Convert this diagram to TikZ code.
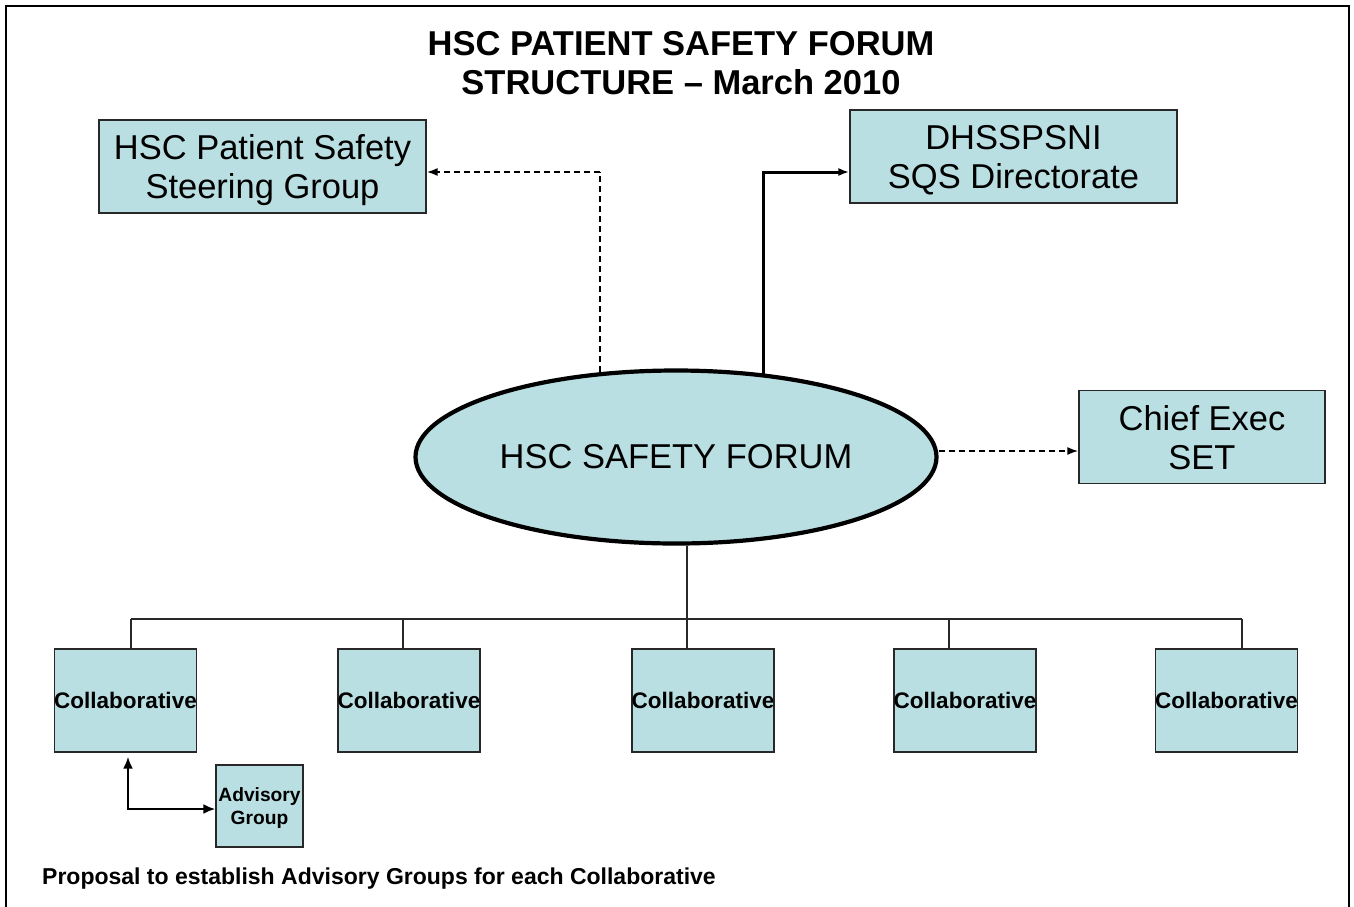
\documentclass[tikz,border=0pt]{standalone}
\usepackage{fontspec}
\setmainfont{Liberation Sans}
\usetikzlibrary{shapes.geometric,arrows.meta,calc}
\definecolor{boxfill}{RGB}{185,223,226}
\definecolor{edge}{RGB}{40,40,40}
\begin{document}
\begin{tikzpicture}[x=1pt,y=-1pt,
  box/.style={draw=edge, line width=1.2pt, fill=boxfill, inner sep=0pt, align=center},
  bigtext/.style={font=\fontsize{34.5}{39}\selectfont},
  wide/.style={box, bigtext, minimum width=327pt, minimum height=93pt, text depth=0pt},
  collab/.style={box, minimum width=142pt, minimum height=103pt,
    font=\bfseries\fontsize{22.5}{27}\selectfont},
  tree/.style={draw=edge, line width=1.2pt},
  dashline/.style={dash pattern=on 6pt off 4pt},
  tip/.style={-{Latex[length=11pt,width=8pt]}},
]
\useasboundingbox (0,0) rectangle (1354,906);
% page frame (open at the bottom)
\draw[line width=2.5pt] (6,912) -- (6,6) -- (1349,6) -- (1349,912);

% heading
\node[font=\bfseries\fontsize{34.5}{39}\selectfont, align=center, inner sep=0pt]
  (title) at (681,63) {HSC PATIENT SAFETY FORUM\\STRUCTURE – March 2010};

% upper boxes
\node[wide] (steer) at (262.5,166.5) {HSC Patient Safety\\Steering Group};
\node[wide] (dhss) at (1013.5,156.5) {DHSSPSNI\\SQS Directorate};
\node[box, bigtext, minimum width=246pt, minimum height=93pt, text depth=0pt]
  (chief) at (1202,437) {Chief Exec\\SET};

% central forum
\node[ellipse, draw=black, line width=4.2pt, fill=boxfill, minimum width=521pt,
  minimum height=173pt, inner sep=0pt, bigtext] (forum) at (676,457) {HSC SAFETY FORUM};

% collaboratives
\node[collab] (c1) at (125.5,700.5) {\makebox[0pt]{Collaborative}};
\node[collab] (c2) at (409,700.5)   {\makebox[0pt]{Collaborative}};
\node[collab] (c3) at (703,700.5)   {\makebox[0pt]{Collaborative}};
\node[collab] (c4) at (965,700.5)   {\makebox[0pt]{Collaborative}};
\node[collab] (c5) at (1226.5,700.5){\makebox[0pt]{Collaborative}};

% advisory group
\node[box, minimum width=87pt, minimum height=82pt, text depth=0pt,
  font=\bfseries\fontsize{19.2}{23}\selectfont] (adv) at (259.5,806) {Advisory\\Group};

\node[anchor=base west, inner sep=0pt, font=\bfseries\fontsize{23}{27}\selectfont]
  (note) at (42,884) {Proposal to establish Advisory Groups for each Collaborative};

% reporting lines
\coordinate (jl) at (600,172);
\coordinate (jr) at (763,172);
\coordinate (cj) at (940,451);
\draw[line width=1.1pt, dashline] (forum.133 -| jl) -- (jl);
\draw[line width=1.8pt, dashline, tip] (jl) -- (steer.east |- jl);
\draw[line width=3pt, tip] (forum.43 -| jr) -- (jr) -- (dhss.west |- jr);
\draw[line width=1.8pt, dashline, tip] (forum.east |- cj) -- (chief.west |- cj);

% tree to the collaboratives
\coordinate (stem) at (687,619);
\coordinate (t1) at (131,619);
\coordinate (t2) at (403,619);
\coordinate (t3) at (687,619);
\coordinate (t4) at (949,619);
\coordinate (t5) at (1242,619);
\draw[tree] (forum.south -| stem) -- (stem);
\draw[tree] (t1) -- (t5);
\foreach \i in {1,...,5} \draw[tree] (t\i) -- (c\i.north -| t\i);

% advisory link
\coordinate (elb) at (128,809);
\draw[line width=2.8pt, {Latex[length=12pt,width=10pt]}-{Latex[length=12pt,width=10pt]}]
  ($(c1.south -| elb)+(0,4)$) -- (elb) -- (adv.west |- elb);
\end{tikzpicture}
\end{document}
